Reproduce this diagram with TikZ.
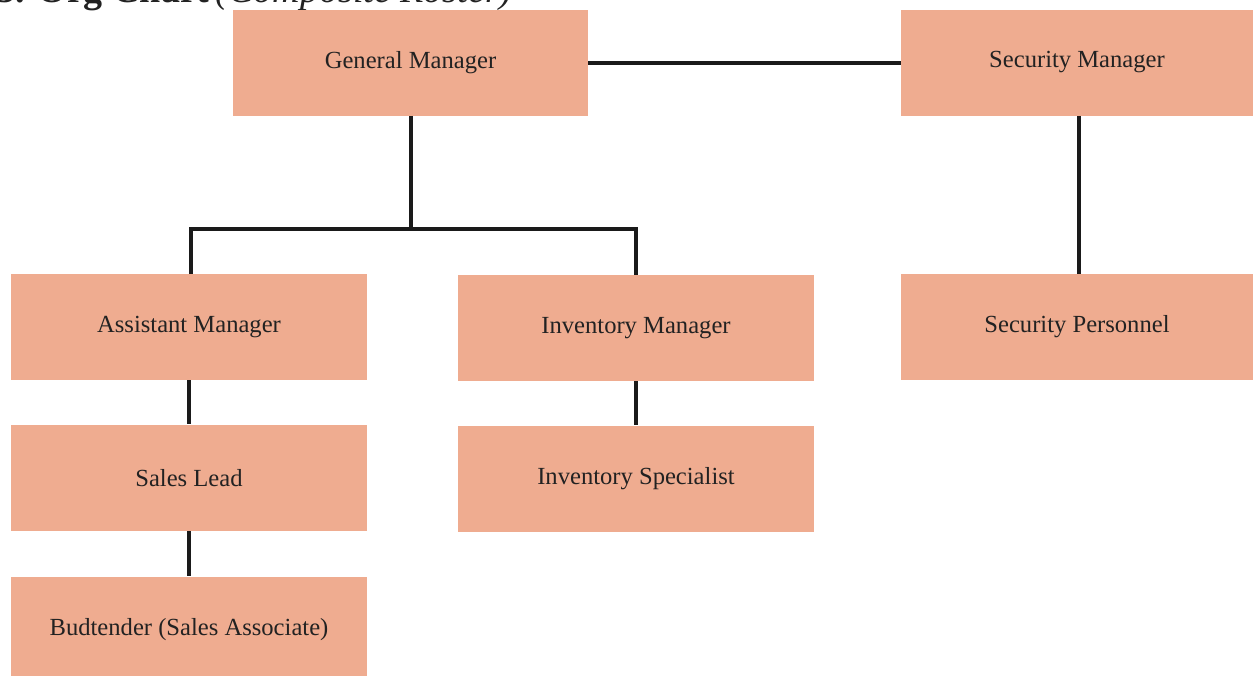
\documentclass[tikz,border=0pt]{standalone}
\usepackage{fontspec}
\setmainfont{Liberation Serif}
\usepackage{xcolor}
\definecolor{boxfill}{HTML}{EFAC90}
\definecolor{inkgray}{HTML}{222222}
\definecolor{linegray}{HTML}{1A1A1A}
\usepackage{tikz}
\usetikzlibrary{positioning}

\begin{document}
\begin{tikzpicture}[x=0.5pt,y=-0.5pt,
  role/.style={fill=boxfill,minimum width=178pt,minimum height=53pt,inner sep=0pt,text=inkgray,font=\fontsize{12.3pt}{14pt}\selectfont},
  link/.style={draw=linegray,line width=2pt}]
\useasboundingbox (0,0) rectangle (1253,675);
\node[anchor=base west,text=inkgray,inner sep=0pt,font=\fontsize{19pt}{22pt}\selectfont] (title) at (-4,2) {\textbf{3. Org Chart}\,\textit{(Composite Roster)}};
\node[role,minimum width=177.5pt] (gm) at (410.5,62.5) {General Manager};
\node[role,minimum width=176pt] (sm) at (1077,62.5) {Security Manager};
\node[role] (am) at (189,327) {Assistant Manager};
\node[role] (im) at (636,328) {Inventory Manager};
\node[role,minimum width=176pt] (sp) at (1077,327) {Security Personnel};
\node[role,below=22pt of am] (sl) {Sales Lead};
\node[role,below=22pt of im] (is) {Inventory Specialist};
\node[role,below=22.5pt of sl] (bt) {Budtender (Sales Associate)};
\coordinate (bar) at (410.5,229);
\draw[link] (gm) -- (sm);
\draw[link] (gm.south) -- (bar);
\draw[link] ([xshift=1pt]am.north) |- (bar) -| (im.north);
\draw[link] ([xshift=1pt]sm.south) -- ([xshift=1pt]sp.north);
\draw[link] (am) -- (sl);
\draw[link] (sl) -- (bt);
\draw[link] (im) -- (is);
\end{tikzpicture}
\end{document}
